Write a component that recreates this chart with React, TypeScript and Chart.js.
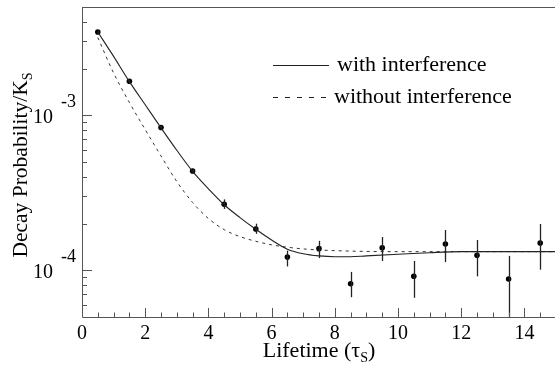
import React, { useEffect, useRef } from "react";
import { Chart, registerables } from "chart.js";

Chart.register(...registerables);

// ---- data ----
const binCenters = [0.5, 1.5, 2.5, 3.5, 4.5, 5.5, 6.5, 7.5, 8.5, 9.5, 10.5, 11.5, 12.5, 13.5, 14.5];
const measured = [3.45e-3, 1.66e-3, 8.34e-4, 4.37e-4, 2.67e-4, 1.85e-4, 1.22e-4, 1.38e-4, 8.2e-5, 1.4e-4, 9.15e-5, 1.48e-4, 1.25e-4, 8.8e-5, 1.5e-4];
const errLow = [3.38e-3, 1.62e-3, 8.15e-4, 4.22e-4, 2.49e-4, 1.72e-4, 1.06e-4, 1.2e-4, 6.71e-5, 1.15e-4, 6.65e-5, 1.13e-4, 9.15e-5, 3.0e-5, 1.01e-4];
const errHigh = [3.52e-3, 1.7e-3, 8.55e-4, 4.52e-4, 2.87e-4, 2.0e-4, 1.34e-4, 1.55e-4, 9.77e-5, 1.64e-4, 1.15e-4, 1.82e-4, 1.57e-4, 1.24e-4, 1.99e-4];

const withX = [0.5, 1, 1.5, 2, 2.5, 3, 3.5, 4, 4.5, 5, 5.5, 6, 6.5, 7, 7.5, 8, 8.5, 9, 10, 11, 12, 13, 14, 15];
const withY = [3.45e-3, 2.4e-3, 1.65e-3, 1.17e-3, 8.3e-4, 5.95e-4, 4.35e-4, 3.36e-4, 2.65e-4, 2.19e-4, 1.84e-4, 1.57e-4, 1.37e-4, 1.28e-4, 1.24e-4, 1.225e-4, 1.225e-4, 1.24e-4, 1.27e-4, 1.3e-4, 1.32e-4, 1.32e-4, 1.32e-4, 1.32e-4];

const withoutX = [0.5, 1, 1.5, 2, 2.5, 3, 3.5, 4, 4.5, 5, 5.5, 6, 6.5, 7, 8, 10, 12, 15];
const withoutY = [3.18e-3, 1.875e-3, 1.21e-3, 8.09e-4, 5.47e-4, 3.74e-4, 2.74e-4, 2.16e-4, 1.83e-4, 1.65e-4, 1.54e-4, 1.46e-4, 1.41e-4, 1.375e-4, 1.34e-4, 1.32e-4, 1.32e-4, 1.32e-4];

const xTickLabels = ["0", "2", "4", "6", "8", "10", "12", "14"];
const xTickValues = [0, 2, 4, 6, 8, 10, 12, 14];
const yMajorValues = [1e-4, 1e-3];
const yMajorExponents = ["-4", "-3"];
const yMinorValues = [6e-5, 7e-5, 8e-5, 9e-5, 2e-4, 3e-4, 4e-4, 5e-4, 6e-4, 7e-4, 8e-4, 9e-4, 2e-3, 3e-3, 4e-3];

const seriesLabels = ["with interference", "without interference"];
const xTitle = "Lifetime (τ";
const xTitleSub = "S";
const yTitle = "Decay Probability/K";
const yTitleSub = "S";

const FONT = '"Liberation Serif", "Times New Roman", serif';
const INK = "#000";

const errorBars = {
  id: "errorBars",
  afterDatasetsDraw(chart: any) {
    const { ctx, chartArea: a, scales } = chart;
    ctx.save();
    ctx.beginPath();
    ctx.rect(a.left, a.top, a.right - a.left, a.bottom - a.top + 1);
    ctx.clip();
    ctx.strokeStyle = "#222";
    ctx.lineWidth = 1.3;
    binCenters.forEach((x, i) => {
      const px = Math.round(scales.x.getPixelForValue(x)) + 0.5;
      ctx.beginPath();
      ctx.moveTo(px, scales.y.getPixelForValue(errHigh[i]));
      ctx.lineTo(px, scales.y.getPixelForValue(errLow[i]));
      ctx.stroke();
    });
    ctx.restore();
  },
};

const overlay = {
  id: "overlay",
  afterDraw(chart: any) {
    const { ctx, chartArea: a, scales } = chart;
    const xs = scales.x;
    const ys = scales.y;
    ctx.save();
    // frame
    ctx.strokeStyle = "#555";
    ctx.lineWidth = 1;
    ctx.beginPath();
    ctx.moveTo(a.left + 0.5, a.top + 0.5);
    ctx.lineTo(a.right, a.top + 0.5);
    ctx.moveTo(a.left + 0.5, a.top);
    ctx.lineTo(a.left + 0.5, a.bottom + 0.5);
    ctx.lineTo(a.right, a.bottom + 0.5);
    ctx.moveTo(a.right - 0.5, a.top);
    ctx.lineTo(a.right - 0.5, a.bottom);
    ctx.stroke();

    // x ticks (inside)
    ctx.beginPath();
    for (let v = 0.5; v < 15; v += 0.5) {
      const major = xTickValues.includes(v);
      const px = Math.round(xs.getPixelForValue(v)) + 0.5;
      ctx.moveTo(px, a.bottom);
      ctx.lineTo(px, a.bottom - (major ? 9 : 4.5));
    }
    // y ticks
    yMajorValues.forEach((v) => {
      const py = Math.round(ys.getPixelForValue(v)) + 0.5;
      ctx.moveTo(a.left, py);
      ctx.lineTo(a.left + 10, py);
    });
    yMinorValues.forEach((v) => {
      const py = Math.round(ys.getPixelForValue(v)) + 0.5;
      ctx.moveTo(a.left, py);
      ctx.lineTo(a.left + 5, py);
    });
    ctx.stroke();

    ctx.fillStyle = INK;
    // x tick labels
    ctx.font = `20px ${FONT}`;
    ctx.textAlign = "center";
    ctx.textBaseline = "alphabetic";
    xTickValues.forEach((v, i) => {
      ctx.fillText(xTickLabels[i], xs.getPixelForValue(v), a.bottom + 22);
    });
    // y tick labels 10^n
    yMajorValues.forEach((v, i) => {
      const py = ys.getPixelForValue(v);
      ctx.font = `20px ${FONT}`;
      ctx.textAlign = "right";
      ctx.fillText("10", 53, py + 8);
      ctx.font = `18px ${FONT}`;
      ctx.textAlign = "left";
      ctx.fillText(yMajorExponents[i], 61, py - 8);
    });

    // x title
    ctx.font = `22px ${FONT}`;
    const w1 = ctx.measureText(xTitle).width;
    ctx.font = `14px ${FONT}`;
    const w2 = ctx.measureText(xTitleSub).width;
    ctx.font = `22px ${FONT}`;
    const w3 = ctx.measureText(")").width;
    const cx = (a.left + a.right) / 2;
    const sx = cx - (w1 + w2 + w3) / 2;
    ctx.textAlign = "left";
    const by = 357;
    ctx.fillText(xTitle, sx, by);
    ctx.font = `14px ${FONT}`;
    ctx.fillText(xTitleSub, sx + w1, by + 5);
    ctx.font = `22px ${FONT}`;
    ctx.fillText(")", sx + w1 + w2, by);

    // y title (rotated)
    ctx.save();
    ctx.translate(27, (a.top + a.bottom) / 2 + 3);
    ctx.rotate(-Math.PI / 2);
    ctx.font = `21.5px ${FONT}`;
    const t1 = ctx.measureText(yTitle).width;
    ctx.font = `14px ${FONT}`;
    const t2 = ctx.measureText(yTitleSub).width;
    const start = -(t1 + t2) / 2;
    ctx.font = `21.5px ${FONT}`;
    ctx.fillText(yTitle, start, 0);
    ctx.font = `14px ${FONT}`;
    ctx.fillText(yTitleSub, start + t1, 5);
    ctx.restore();

    // legend
    ctx.strokeStyle = "#222";
    ctx.lineWidth = 1;
    ctx.beginPath();
    ctx.moveTo(273, 65.5);
    ctx.lineTo(329, 65.5);
    ctx.stroke();
    ctx.setLineDash([5, 7]);
    ctx.beginPath();
    ctx.moveTo(273, 97.5);
    ctx.lineTo(333, 97.5);
    ctx.stroke();
    ctx.setLineDash([]);
    ctx.font = `22px ${FONT}`;
    ctx.fillText(chart.data.datasets[0].label, 337, 71);
    ctx.fillText(chart.data.datasets[1].label, 334, 103);
    ctx.restore();
  },
};

export default function App() {
  const ref = useRef<HTMLCanvasElement | null>(null);
  useEffect(() => {
    document.body.style.margin = "0";
    const canvas = ref.current!;
    const chart = new Chart(canvas, {
      type: "scatter",
      data: {
        datasets: [
          {
            label: seriesLabels[0],
            data: withX.map((x, i) => ({ x, y: withY[i] })),
            showLine: true,
            borderColor: "#222",
            borderWidth: 1.1,
            pointRadius: 0,
            cubicInterpolationMode: "monotone",
          },
          {
            label: seriesLabels[1],
            data: withoutX.map((x, i) => ({ x, y: withoutY[i] })),
            showLine: true,
            borderColor: "#333",
            borderWidth: 1,
            borderDash: [3, 4],
            pointRadius: 0,
            cubicInterpolationMode: "monotone",
          },
          {
            label: "data",
            data: binCenters.map((x, i) => ({ x, y: measured[i] })),
            showLine: false,
            pointRadius: 2.8,
            pointBackgroundColor: "#000",
            pointBorderColor: "#000",
            pointBorderWidth: 0,
          },
        ],
      },
      options: {
        animation: false,
        responsive: false,
        events: [],
        layout: { padding: { left: 82, top: 7, right: 2.5, bottom: 51 } },
        plugins: { legend: { display: false }, tooltip: { enabled: false } },
        scales: {
          x: { type: "linear", min: 0, max: 15, display: false },
          y: { type: "logarithmic", min: 5e-5, max: 5e-3, display: false },
        },
      },
      plugins: [errorBars, overlay],
    } as any);
    return () => chart.destroy();
  }, []);
  return (
    <div style={{ position: "fixed", left: 0, top: 0, width: 555, height: 368, overflow: "hidden", background: "#fff" }}>
      <canvas ref={ref} width={560} height={368} style={{ display: "block", width: 560, height: 368 }} />
    </div>
  );
}
